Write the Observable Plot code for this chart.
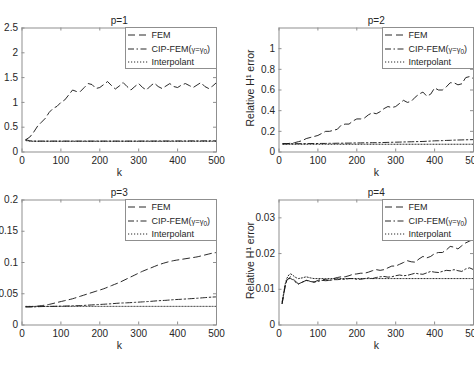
<!DOCTYPE html>
<html>
<head>
<meta charset="utf-8">
<script src="https://cdn.jsdelivr.net/npm/d3@7"></script>
<script src="https://cdn.jsdelivr.net/npm/@observablehq/plot@0.6"></script>
<style>
  body { margin: 0; background: #fff; }
  #fig { position: relative; width: 474px; height: 365px; overflow: hidden; font-family: "Liberation Sans", Arial, sans-serif; color: #262626; }
  .panel { position: absolute; }
  .panel svg { overflow: visible; }
  .legend { position: absolute; background: #fff; border: 1px solid #8f8f8f; box-sizing: border-box; font-size: 9px; color: #262626; }
  .legend .row { height: 13.5px; display: flex; align-items: center; white-space: nowrap; }
  .legend svg { flex: none; }
  .legend .g { font-size: 7.5px; }
  .legend sub { font-size: 6.5px; vertical-align: -2px; line-height: 0; }
</style>
</head>
<body>
<div id="fig"></div>
<script>
// ---------- data ----------
const xTicks = [0, 100, 200, 300, 400, 500];
const seriesNames = ["FEM", "CIP-FEM(γ=γ0)", "Interpolant"];

// p = 1
const k1 = [10,20,30,40,50,60,70,80,90,100,110,120,130,140,150,160,170,180,190,200,210,220,230,240,250,260,270,280,290,300,310,320,330,340,350,360,370,380,390,400,410,420,430,440,450,460,470,480,490,500];
const fem1 = [0.25,0.3,0.4,0.52,0.6,0.68,0.8,0.88,0.92,1.0,1.05,1.15,1.25,1.22,1.22,1.3,1.38,1.36,1.28,1.3,1.36,1.42,1.34,1.27,1.33,1.4,1.32,1.25,1.32,1.38,1.3,1.25,1.33,1.39,1.32,1.28,1.33,1.38,1.32,1.3,1.35,1.38,1.34,1.3,1.35,1.4,1.32,1.28,1.33,1.4];
const cip1 = [0.25,0.225,0.22,0.22,0.22,0.22,0.22,0.22,0.22,0.22,0.22,0.22,0.22,0.22,0.22,0.22,0.22,0.22,0.22,0.22,0.22,0.22,0.22,0.22,0.22,0.22,0.22,0.22,0.22,0.22,0.221,0.221,0.221,0.221,0.222,0.222,0.222,0.222,0.223,0.223,0.223,0.223,0.224,0.224,0.224,0.224,0.225,0.225,0.225,0.225];
const int1 = [0.23,0.218,0.216,0.216,0.216,0.216,0.216,0.216,0.216,0.216,0.216,0.216,0.216,0.216,0.216,0.216,0.216,0.216,0.216,0.216,0.216,0.216,0.216,0.216,0.216,0.216,0.216,0.216,0.216,0.216,0.216,0.216,0.216,0.216,0.216,0.216,0.216,0.216,0.216,0.216,0.216,0.216,0.216,0.216,0.216,0.216,0.216,0.216,0.216,0.216];

// p = 2
const k2 = k1;
const fem2 = [0.08,0.08,0.085,0.09,0.1,0.11,0.13,0.14,0.15,0.16,0.18,0.2,0.2,0.21,0.22,0.26,0.27,0.27,0.3,0.32,0.32,0.33,0.36,0.38,0.37,0.39,0.42,0.44,0.43,0.44,0.47,0.5,0.48,0.49,0.53,0.56,0.58,0.54,0.56,0.62,0.6,0.6,0.63,0.67,0.67,0.65,0.66,0.72,0.73,0.71];
const cip2 = [0.08,0.08,0.08,0.08,0.081,0.081,0.081,0.082,0.082,0.082,0.083,0.083,0.084,0.084,0.085,0.085,0.086,0.086,0.087,0.088,0.088,0.089,0.089,0.09,0.09,0.091,0.092,0.093,0.094,0.095,0.096,0.097,0.098,0.099,0.1,0.101,0.102,0.104,0.106,0.108,0.109,0.11,0.112,0.113,0.115,0.116,0.117,0.118,0.119,0.12];
const int2 = [0.075,0.075,0.075,0.075,0.075,0.075,0.075,0.075,0.075,0.075,0.075,0.075,0.075,0.075,0.075,0.075,0.075,0.075,0.075,0.075,0.075,0.075,0.075,0.075,0.075,0.075,0.075,0.075,0.075,0.075,0.075,0.075,0.075,0.075,0.075,0.075,0.075,0.075,0.075,0.075,0.075,0.075,0.075,0.075,0.075,0.075,0.075,0.075,0.075,0.075];

// p = 3
const k3 = [10,30,50,70,90,110,130,150,170,190,210,230,250,270,290,310,330,350,370,390,410,430,450,470,490,500];
const fem3 = [0.029,0.0295,0.031,0.033,0.036,0.039,0.042,0.046,0.05,0.054,0.058,0.063,0.068,0.074,0.08,0.086,0.091,0.096,0.1,0.103,0.105,0.107,0.109,0.112,0.115,0.116];
const cip3 = [0.029,0.029,0.0295,0.0297,0.03,0.0303,0.0307,0.031,0.0318,0.0325,0.0332,0.034,0.035,0.0355,0.0362,0.037,0.0378,0.0388,0.0395,0.0405,0.0412,0.042,0.0428,0.0438,0.0447,0.045];
const int3 = [0.0298,0.0298,0.0298,0.0298,0.0298,0.0298,0.0298,0.0298,0.0298,0.0298,0.0298,0.0298,0.0298,0.0298,0.0298,0.0298,0.0298,0.0298,0.0298,0.0298,0.0298,0.0298,0.0298,0.0298,0.0298,0.0298];

// p = 4
const k4 = [8,12,16,20,25,30,35,40,45,50,60,70,80,90,100,110,120,130,140,150,160,170,180,190,200,210,220,230,240,250,260,270,280,290,300,310,320,330,340,350,360,370,380,390,400,410,420,430,440,450,460,470,480,490,500];
const fem4 = [0.006,0.0085,0.011,0.0125,0.013,0.0135,0.013,0.0125,0.012,0.0115,0.012,0.0125,0.0123,0.012,0.0125,0.0128,0.0127,0.0125,0.013,0.0133,0.0135,0.0135,0.0138,0.0142,0.0143,0.0145,0.0145,0.0148,0.0152,0.0155,0.0153,0.0155,0.016,0.0165,0.0165,0.017,0.0175,0.018,0.0177,0.0176,0.0185,0.0192,0.0188,0.0192,0.02,0.0203,0.0203,0.021,0.022,0.0218,0.0213,0.0222,0.023,0.0235,0.024];
const cip4 = [0.006,0.0085,0.011,0.0125,0.013,0.013,0.0127,0.0122,0.0118,0.0115,0.012,0.0125,0.0122,0.012,0.0122,0.0125,0.0124,0.0125,0.0127,0.0127,0.0128,0.0128,0.013,0.013,0.0128,0.0128,0.013,0.0132,0.013,0.0133,0.0135,0.0136,0.0134,0.0135,0.0138,0.014,0.0138,0.0139,0.0142,0.0145,0.0143,0.0142,0.0146,0.015,0.0148,0.0147,0.015,0.0153,0.0152,0.0155,0.0152,0.015,0.0157,0.016,0.0155];
const int4 = [0.0065,0.009,0.0115,0.013,0.014,0.0143,0.014,0.0135,0.0132,0.013,0.0132,0.0135,0.0132,0.013,0.013,0.013,0.013,0.013,0.013,0.013,0.013,0.013,0.013,0.013,0.013,0.013,0.013,0.013,0.013,0.013,0.013,0.013,0.013,0.013,0.013,0.013,0.013,0.013,0.013,0.013,0.013,0.013,0.013,0.013,0.013,0.013,0.013,0.013,0.013,0.013,0.013,0.013,0.013,0.013,0.013];

// ---------- styles ----------
const dash = ["7,4", "6,2.5,1.5,2.5", "1.2,1.8"];
const lineColor = "#111";
const frameColor = "#8f8f8f";
const textColor = "#262626";
const fmt = d3.format("~g");

const panels = [
  {title: "p=1", left: 0,   top: 0,   w: 237, h: 182, ml: 21.5, mr: 21,  mt: 27.5, mb: 30.5, yDomain: [0, 2.5],   yTicks: [0,0.5,1,1.5,2,2.5], k: k1, s: [fem1, cip1, int1], ylabel: false},
  {title: "p=2", left: 237, top: 0,   w: 237, h: 182, ml: 41.5, mr: 1,   mt: 27.5, mb: 30.5, yDomain: [0, 1.2],   yTicks: [0,0.2,0.4,0.6,0.8,1], k: k2, s: [fem2, cip2, int2], ylabel: true},
  {title: "p=3", left: 0,   top: 182, w: 237, h: 183, ml: 21.5, mr: 21,  mt: 17.5, mb: 40.5, yDomain: [0, 0.2],   yTicks: [0,0.05,0.1,0.15,0.2], k: k3, s: [fem3, cip3, int3], ylabel: false, curve: "catmull-rom"},
  {title: "p=4", left: 237, top: 182, w: 237, h: 183, ml: 41.5, mr: 1,   mt: 17.5, mb: 40.5, yDomain: [0, 0.035], yTicks: [0,0.01,0.02,0.03], k: k4, s: [fem4, cip4, int4], ylabel: true}
];

const fig = document.getElementById("fig");

for (const p of panels) {
  const fw = p.w - p.ml - p.mr, fh = p.h - p.mt - p.mb;
  const lines = p.s.map((vals, j) =>
    Plot.line(p.k.map((k, i) => ({k, v: vals[i]})), {
      x: "k", y: "v", stroke: lineColor, strokeWidth: 0.9,
      strokeDasharray: dash[j], curve: p.curve || "linear"
    })
  );
  const marks = [
    Plot.tickX(xTicks, {x: d => d, insetTop: fh - 3, stroke: frameColor}),
    Plot.tickX(xTicks, {x: d => d, insetBottom: fh - 3, stroke: frameColor}),
    Plot.tickY(p.yTicks, {y: d => d, insetRight: fw - 3, stroke: frameColor}),
    Plot.tickY(p.yTicks, {y: d => d, insetLeft: fw - 3, stroke: frameColor}),
    ...lines,
    Plot.frame({stroke: frameColor}),
    Plot.text([p.title], {frameAnchor: "top", lineAnchor: "middle", textAnchor: "middle", dy: -7.5, fontSize: 10, fill: textColor}),
    Plot.text(["k"], {frameAnchor: "bottom", lineAnchor: "middle", textAnchor: "middle", dy: 21, fontSize: 10.5, fill: textColor})
  ];
  if (p.ylabel) {
    marks.push(Plot.text(["Relative H¹ error"], {frameAnchor: "left", lineAnchor: "middle", textAnchor: "middle", dx: -28, dy: -2, rotate: -90, fontSize: 10.5, fill: textColor}));
  }
  const chart = Plot.plot({
    width: p.w, height: p.h,
    marginLeft: p.ml, marginRight: p.mr, marginTop: p.mt, marginBottom: p.mb,
    style: {fontFamily: "Liberation Sans, Arial, sans-serif", fontSize: "10px", color: textColor, background: "transparent", overflow: "visible"},
    x: {domain: [0, 500], ticks: xTicks, tickSize: 0, tickPadding: 5, tickFormat: fmt, label: null},
    y: {domain: p.yDomain, ticks: p.yTicks, tickSize: 0, tickPadding: 4, tickFormat: fmt, label: null},
    marks
  });
  const div = document.createElement("div");
  div.className = "panel";
  div.style.left = p.left + "px";
  div.style.top = p.top + "px";
  div.appendChild(chart);
  fig.appendChild(div);

  // legend box (inside the frame, top-right)
  const lg = document.createElement("div");
  lg.className = "legend";
  const lw = 92, lh = 42;
  lg.style.width = lw + "px";
  lg.style.height = lh + "px";
  lg.style.left = (p.left + p.w - p.mr - lw + 0.5) + "px";
  lg.style.top = (p.top + p.mt - 0.5) + "px";
  lg.style.paddingTop = "0.5px";
  seriesNames.forEach((name, j) => {
    const row = document.createElement("div");
    row.className = "row";
    const svg = d3.create("svg").attr("width", 26).attr("height", 10);
    svg.append("line").attr("x1", 2).attr("x2", 23).attr("y1", 5).attr("y2", 5)
      .attr("stroke", lineColor).attr("stroke-width", 0.9).attr("stroke-dasharray", dash[j]);
    row.appendChild(svg.node());
    const t = document.createElement("span");
    if (j === 1) {
      t.innerHTML = 'CIP-FEM(<span class="g">γ=γ<sub>0</sub></span>)';
    } else {
      t.textContent = name;
    }
    row.appendChild(t);
    lg.appendChild(row);
  });
  fig.appendChild(lg);
}
</script>
</body>
</html>
